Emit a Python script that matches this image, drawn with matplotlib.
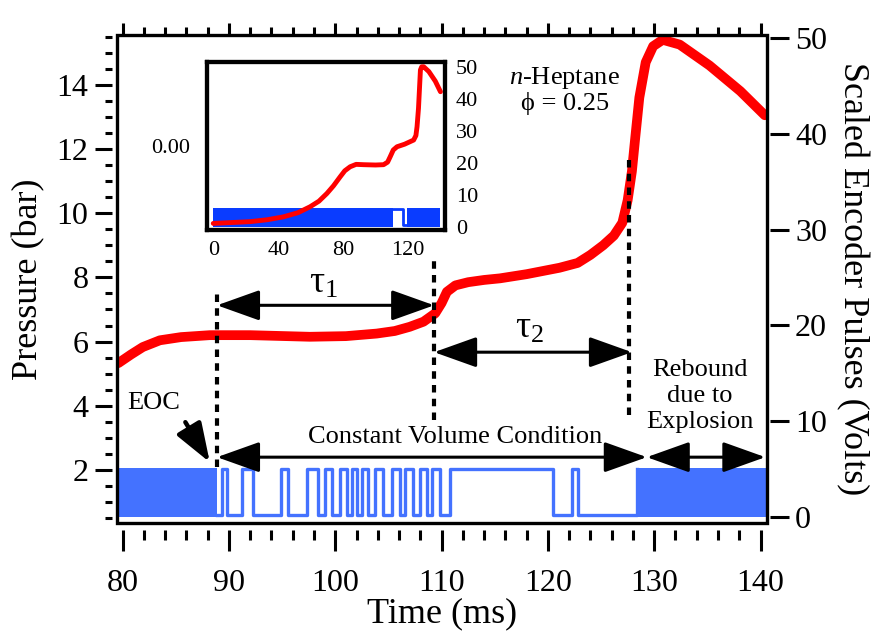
import matplotlib
matplotlib.use("Agg")
import matplotlib.pyplot as plt
from matplotlib.patches import Rectangle
from matplotlib.ticker import MultipleLocator

plt.rcParams['font.family'] = ['Liberation Serif', 'DejaVu Serif']
plt.rcParams['mathtext.fontset'] = 'custom'
plt.rcParams['mathtext.rm'] = 'Liberation Serif'
plt.rcParams['mathtext.it'] = 'Liberation Serif:italic'

# ---------------- data ----------------
# Pressure trace (main, left axis)
time_ms = [79.6, 80.8, 81.9, 83.5, 85.5, 88.2, 92.0, 97.6, 101.0, 103.9, 105.6, 107.0,
           108.3, 109.4, 110.0, 110.5, 111.3, 112.5, 114.0, 115.5, 118.0, 121.1, 122.8,
           124.0, 125.2, 126.2, 127.0, 127.5, 127.9, 128.2, 128.6, 129.2, 129.9, 130.8,
           132.4, 135.2, 138.1, 140.4]
pressure_bar = [5.33, 5.60, 5.83, 6.04, 6.14, 6.20, 6.20, 6.15, 6.17, 6.25, 6.33, 6.46,
                6.62, 6.88, 7.20, 7.55, 7.75, 7.85, 7.92, 7.97, 8.10, 8.30, 8.45,
                8.70, 9.00, 9.30, 9.70, 10.40, 11.30, 12.30, 13.60, 14.70, 15.20, 15.40,
                15.25, 14.60, 13.80, 13.05]

# Encoder pulses (main, right axis): step edges after EOC and solid (fast-toggle) blocks
pulse_t = [88.9, 89.32, 89.79, 91.20, 92.27, 94.87, 95.56, 97.32, 98.38, 99.04, 99.67,
           100.45, 101.08, 101.55, 102.02, 102.49, 103.11, 103.74, 104.52, 105.32, 106.10,
           106.57, 107.35, 107.98, 108.61, 109.08, 109.86, 110.80, 120.52, 122.28, 122.85,
           128.39]
pulse_v = [0.2, 5.0, 0.2, 5.0, 0.2, 5.0, 0.2, 5.0, 0.2, 5.0, 0.2,
           5.0, 0.2, 5.0, 0.2, 5.0, 0.2, 5.0, 0.2, 5.0, 0.2,
           5.0, 0.2, 5.0, 0.2, 5.0, 0.2, 5.0, 0.2, 5.0, 0.2,
           5.0]
block_start = [79.4, 128.39]
block_end = [88.9, 140.6]
pulse_low, pulse_high = 0.0, 5.15

# Inset (full compression history)
inset_t = [-0.4, 10, 22.3, 33, 43, 52, 59.5, 65, 69.9, 74, 78.1, 81, 84.3, 88, 92.6,
           100, 105, 107.5, 109.1, 111, 113.3, 118, 123.6, 125.0, 125.7, 126.6, 127.3,
           127.8, 128.6, 129.8, 133, 137, 140.2]
inset_p = [1.05, 1.3, 1.6, 2.2, 3.1, 4.4, 6.25, 8.0, 10.4, 12.8, 15.6, 17.5, 18.75, 19.5,
           19.4, 19.3, 19.4, 20.2, 21.9, 24.0, 25.0, 25.8, 27.1, 28.5, 31.25, 37.0, 44.0,
           49.0, 50.0, 50.0, 48.5, 45.5, 42.2]
inset_block_start = [-0.4, 119.6]
inset_block_end = [111.0, 140.0]
inset_step_t = [111.0, 117.3, 119.6]
inset_step_v = [5.5, 0.5, 0.5]

x_ticks = [80, 90, 100, 110, 120, 130, 140]
left_ticks = [2, 4, 6, 8, 10, 12, 14]
right_ticks = [0, 10, 20, 30, 40, 50]
inset_x_ticks = [0, 40, 80, 120]
inset_r_ticks = [0, 10, 20, 30, 40, 50]

RED = '#FF0000'
BLUE = '#4472FF'
IBLUE = '#0A3CFF'

# ---------------- figure ----------------
fig = plt.figure(figsize=(8.77, 6.36), dpi=100)
ax = fig.add_axes([0.1334, 0.1777, 0.7412, 0.7673])
ax2 = ax.twinx()
ax.set_zorder(2)
ax2.set_zorder(1)
ax.patch.set_visible(False)

ax.set_xlim(79.47, 140.61)
ax.set_ylim(0.35, 15.55)
ax2.set_ylim(-0.6, 50.3)

# blue pulses
for s, e in zip(block_start, block_end):
    ax2.fill_between([s, e], pulse_low, pulse_high, color=BLUE, lw=0)
ax2.step(pulse_t, pulse_v, where='post', color=BLUE, lw=2.4)

# red pressure
ax.plot(time_ms, pressure_bar, color=RED, lw=7, solid_capstyle='round',
        solid_joinstyle='round', zorder=3)

# frame and ticks
for a in (ax, ax2):
    for sp in a.spines.values():
        sp.set_visible(False)
ax.add_patch(Rectangle((0, 0), 1, 1, transform=ax.transAxes, fill=False,
                       lw=2.4, ec='black', clip_on=False, zorder=10))
ax.spines['left'].set_position(('outward', 3.6))
ax.spines['bottom'].set_position(('outward', 5))
ax2.spines['right'].set_position(('outward', 2.2))

ax.set_xticks(x_ticks)
ax.xaxis.set_minor_locator(MultipleLocator(2))
ax.set_yticks(left_ticks)
ax.yaxis.set_minor_locator(MultipleLocator(0.5))
ax2.set_yticks(right_ticks)

ax.tick_params(axis='x', which='major', direction='out', length=15, width=2.2,
               labelsize=23, pad=13, top=False)
ax.tick_params(axis='x', which='minor', direction='out', length=7.5, width=2.2, top=False)
ax.tick_params(axis='y', which='major', direction='out', length=12, width=2.2,
               labelsize=23, pad=5)
ax.tick_params(axis='y', which='minor', direction='out', length=5, width=2.2)
ax2.tick_params(axis='y', which='major', direction='out', length=14, width=2.2,
                labelsize=23, pad=4)

top = ax.secondary_xaxis('top')
top.set_xticks(x_ticks)
top.xaxis.set_minor_locator(MultipleLocator(2))
top.tick_params(axis='x', which='major', direction='out', length=9, width=2.2, labeltop=False)
top.tick_params(axis='x', which='minor', direction='out', length=6, width=2.2)
for sp in top.spines.values():
    sp.set_visible(False)

ax.set_xlabel('Time (ms)', fontsize=26, labelpad=0)
ax.set_ylabel('Pressure (bar)', fontsize=26, labelpad=8)
ax2.set_ylabel('Scaled Encoder Pulses (Volts)', fontsize=26, rotation=270, labelpad=30)

# ---------------- annotations ----------------
dash = dict(color='black', lw=3, linestyle=(0, (1.8, 1.5)), zorder=4)
ax.plot([88.88, 88.88], [2.1, 7.6], **dash)
ax.plot([109.3, 109.3], [3.55, 8.69], **dash)
ax.plot([127.65, 127.65], [3.7, 11.8], **dash)

astyle = dict(arrowstyle='<|-|>,head_length=1.4,head_width=0.5', color='black',
              lw=2.2, mutation_scale=19, shrinkA=0, shrinkB=0)
ax.annotate('', xy=(88.88, 7.13), xytext=(109.3, 7.13), arrowprops=astyle, zorder=5)
ax.annotate('', xy=(109.3, 5.67), xytext=(127.9, 5.67), arrowprops=astyle, zorder=5)
ax.annotate('', xy=(88.88, 2.4), xytext=(129.3, 2.4), arrowprops=astyle, zorder=5)
ax.annotate('', xy=(129.3, 2.4), xytext=(140.45, 2.4), arrowprops=astyle, zorder=5)

ax.text(98.9, 7.8, r'$\mathregular{τ_1}$', fontsize=27, ha='center', va='center')
ax.text(118.3, 6.4, r'$\mathregular{τ_2}$', fontsize=27, ha='center', va='center')
ax.text(111.3, 3.02, 'Constant Volume Condition', fontsize=19, ha='center', va='center',
        bbox=dict(fc='white', ec='none', pad=1))
ax.text(134.3, 4.3, 'Rebound\ndue to\nExplosion', fontsize=19, ha='center', va='center',
        linespacing=1.25, bbox=dict(fc='white', ec='none', pad=1))
ax.text(82.9, 4.1, 'EOC', fontsize=19, ha='center', va='center')
ax.annotate('', xy=(88.2, 2.24), xytext=(85.9, 3.49),
            arrowprops=dict(arrowstyle='-|>,head_length=1.4,head_width=0.5', color='black',
                            lw=3.2, mutation_scale=17, shrinkA=0, shrinkB=0))
ax.text(121.6, 14.2, r'$\mathit{n}$-Heptane', fontsize=19, ha='center', va='center')
ax.text(121.6, 13.43, 'ϕ = 0.25', fontsize=19, ha='center', va='center')

# ---------------- inset ----------------
axi = fig.add_axes([0.236, 0.6384, 0.2714, 0.2642])
axi2 = axi.twinx()
axi.set_xlim(-4.3, 143)
axi.set_ylim(-1, 1)
axi2.set_ylim(-1, 51.5)
for s, e in zip(inset_block_start, inset_block_end):
    axi2.fill_between([s, e], 0, 5.75, color=IBLUE, lw=0)
axi2.step(inset_step_t, inset_step_v, where='post', color=IBLUE, lw=2)
axi2.plot(inset_t, inset_p, color=RED, lw=3.5, solid_capstyle='round')
axi.set_xticks(inset_x_ticks)
axi.set_yticks([0])
axi.set_yticklabels(['0.00'])
axi2.set_yticks(inset_r_ticks)
axi.tick_params(axis='both', length=0, labelsize=16, pad=8)
axi.tick_params(axis='y', pad=12)
axi2.tick_params(axis='y', length=0, labelsize=16, pad=8)
for a in (axi, axi2):
    for sp in a.spines.values():
        sp.set_linewidth(3)

fig.savefig('out.png', dpi=100)
